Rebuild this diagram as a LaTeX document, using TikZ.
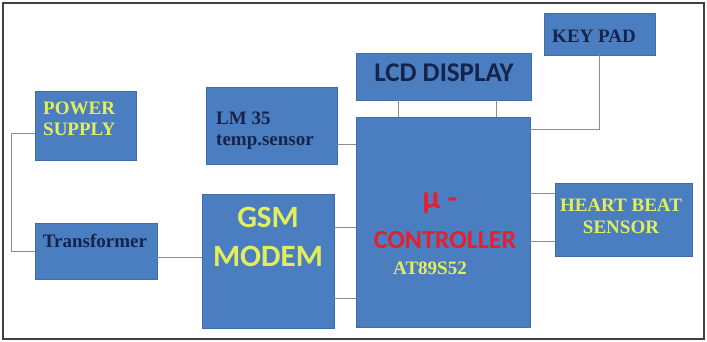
\documentclass[tikz,border=0pt]{standalone}
\usepackage{fontspec}
\newfontfamily\tnrfont{Liberation Serif}
\newfontfamily\calfont{Carlito}
\definecolor{boxblue}{HTML}{4A7EC0}
\definecolor{boxedge}{HTML}{3E6DA8}
\definecolor{txtyel}{HTML}{E4EE5C}
\definecolor{txtnavy}{HTML}{16234A}
\definecolor{txtred}{HTML}{E5202C}
\definecolor{wiregray}{HTML}{8C8C8C}

\begin{document}
\begin{tikzpicture}[x=1pt, y=-1pt,
        blk/.style={rectangle, draw=boxedge, line width=0.8pt, fill=boxblue, inner sep=0pt},
        lbl/.style={font=\tnrfont\bfseries\fontsize{19}{21}\selectfont, inner sep=0pt},
        big/.style={font=\calfont\bfseries, inner sep=0pt},
        wire/.style={draw=wiregray, line width=0.9pt}]
      \useasboundingbox (0,0) rectangle (707,341);
      \draw[line width=1.3pt, draw=black!75] (3,3) rectangle (704,339);
      % blocks
      \node[blk, minimum width=101pt, minimum height=69pt]  (pwr) at (85.5,125.5) {};
      \node[blk, minimum width=131pt, minimum height=77pt]  (lm)  at (271.5,125.5) {};
      \node[blk, minimum width=175pt, minimum height=47pt]  (lcd) at (443.5,76.5) {};
      \node[blk, minimum width=111pt, minimum height=42pt]  (key) at (599.5,34) {};
      \node[blk, minimum width=174pt, minimum height=210pt] (mcu) at (443,222) {};
      \node[blk, minimum width=122pt, minimum height=56pt]  (trf) at (96,251) {};
      \node[blk, minimum width=132pt, minimum height=134pt] (gsm) at (268,261) {};
      \node[blk, minimum width=137pt, minimum height=73pt]  (hb)  at (623.5,219.5) {};
      % labels
      \node[lbl, txtyel, anchor=west, align=left] (pwrtxt) at (43,119) {POWER\\SUPPLY};
      \node[lbl, txtnavy, anchor=west, align=left] (lmtxt) at (216,131) {LM 35\\temp.sensor};
      \node[big, txtnavy, font=\calfont\bfseries\fontsize{27}{30}\selectfont] (lcdtxt) at (444,73) {LCD DISPLAY};
      \node[lbl, txtnavy] (keytxt) at (594,36) {KEY PAD};
      \node[big, txtred, font=\calfont\bfseries\fontsize{32}{36}\selectfont] (mutxt) at (440,203) {μ -};
      \node[big, txtred, font=\calfont\bfseries\fontsize{26}{30}\selectfont] (ctltxt) at (445,240) {CONTROLLER};
      \node[lbl, txtyel] (attxt) at (430,268) {AT89S52};
      \node[big, txtyel, font=\calfont\bfseries\fontsize{31}{39}\selectfont, align=center] (gsmtxt) at (268,237) {GSM\\MODEM};
      \node[lbl, txtnavy] (trftxt) at (95,241) {Transformer};
      \node[lbl, txtyel, align=center, font=\tnrfont\bfseries\fontsize{19}{22}\selectfont] (hbtxt) at (621,216) {HEART BEAT\\SENSOR};
      % connections
      \draw[wire] ([yshift=-7.5pt]pwr.west) -| ([xshift=-23pt]trf.west) -- (trf.west);
      \draw[wire] (lm.east |- 0,144) -- (mcu.west |- 0,144);
      \draw[wire] (lcd.south -| 398,0) -- (mcu.north -| 398,0);
      \draw[wire] (lcd.south -| 496,0) -- (mcu.north -| 496,0);
      \draw[wire] (mcu.east |- 0,129) -| (key.south);
      \draw[wire] (trf.east |- 0,257) -- (gsm.west |- 0,257);
      \draw[wire] (gsm.east |- 0,227) -- (mcu.west |- 0,227);
      \draw[wire] (gsm.east |- 0,298) -- (mcu.west |- 0,298);
      \draw[wire] (mcu.east |- 0,193) -- (hb.west |- 0,193);
      \draw[wire] (mcu.east |- 0,241) -- (hb.west |- 0,241);
    \end{tikzpicture}
\end{document}
